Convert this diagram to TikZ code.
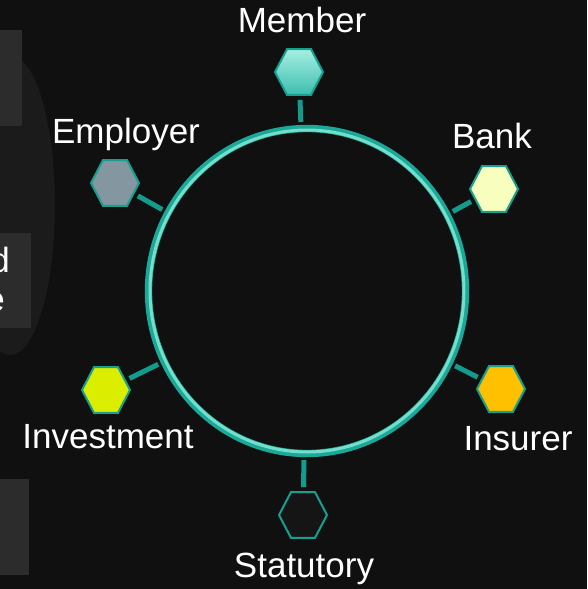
\documentclass[tikz,border=0pt]{standalone}
\usepackage{fontspec}
\setmainfont{Liberation Sans}
\usetikzlibrary{shapes}
\usetikzlibrary{positioning}
\definecolor{bgdark}{HTML}{101010}
\definecolor{blobgray}{HTML}{1B1B1B}
\definecolor{boxgray}{HTML}{2C2C2C}
\definecolor{ringteal}{HTML}{1AA898}
\definecolor{ringmint}{HTML}{74DECA}
\definecolor{hexline}{HTML}{16A090}
\definecolor{stubteal}{HTML}{139B8B}
\definecolor{memtop}{HTML}{A6EFE2}
\definecolor{membot}{HTML}{3DBEAE}
\definecolor{bankyel}{HTML}{F8FFBE}
\definecolor{insorange}{HTML}{FFC000}
\definecolor{empgray}{HTML}{8496A0}
\definecolor{invlime}{HTML}{DCEE00}
\definecolor{statdark}{HTML}{151515}
\tikzset{
    hexnode/.style = {regular polygon, regular polygon sides=6, minimum size=36pt, inner sep=0pt, outer sep=0pt, yscale=1.1, line width=1.5pt, draw=hexline},
    hexnodem/.style = {hexnode, top color=memtop, bottom color=membot},
    hexnodeb/.style = {hexnode, fill=bankyel},
    hexnodei/.style = {hexnode, fill=insorange},
    hexnodes/.style = {hexnode, fill=statdark},
    hexnodev/.style = {hexnode, fill=invlime},
    hexnodee/.style = {hexnode, fill=empgray},
    ringnode/.style = {ellipse, minimum width=237.75pt, minimum height=243.75pt, inner sep=0pt, outer sep=0pt, draw=ringteal, line width=5.5pt},
    ringin/.style = {draw=ringmint, line width=2.25pt},
    stub/.style = {line width=3.75pt, draw=stubteal, shorten <=5pt, shorten >=3.75pt}, % ring to hexagon
    lbl/.style = {text=white, inner sep=0pt, anchor=base, font=\fontsize{26.25}{31}\selectfont},
    boxtxt/.style = {text=white, inner sep=0pt, anchor=base east, font=\fontsize{26.25}{31}\selectfont}
}
\begin{document}
\begin{tikzpicture}[x=0.75pt,y=-0.75pt]
%
\path[use as bounding box, fill=bgdark] (0,0) rectangle (587,589);
\fill[blobgray] (10,205) ellipse [x radius=45, y radius=150];
\fill[boxgray] (0,30) rectangle (22,126);
\fill[boxgray] (0,233) rectangle (31,328);
\fill[boxgray] (0,479) rectangle (29,575);
\node[boxtxt] at (10,272) (boxd) {d};
\node[boxtxt] at (5,311) (boxe) {e};
%
\node[ringnode] at (307,291) (ring) {};
\draw[ringin] (ring.center) ellipse [x radius=157, y radius=161];
%
\node[hexnodem] at (299,72) (member) {};
\node[hexnodeb] at (494,189) (bank) {};
\node[hexnodei] at (501,389) (insurer) {};
\node[hexnodes] at (303,515) (statutory) {};
\node[hexnodev] at (106,390) (investment) {};
\node[hexnodee] at (115,183) (employer) {};
%
\draw[stub] (ring) -- (member);
\draw[stub] (ring) -- (bank);
\draw[stub] (ring) -- (insurer);
\draw[stub] (ring) -- (statutory);
\draw[stub] (ring) -- (investment);
\draw[stub] (ring) -- (employer);
%
\node[lbl] at (302,32) (memberlbl) {Member};
\node[lbl] at (492,148) (banklbl) {Bank};
\node[lbl] at (518,450) (insurerlbl) {Insurer};
\node[lbl] at (304,577) (statutorylbl) {Statutory};
\node[lbl] at (108,448) (investmentlbl) {Investment};
\node[lbl] at (126,143) (employerlbl) {Employer};

\end{tikzpicture}
\end{document}
